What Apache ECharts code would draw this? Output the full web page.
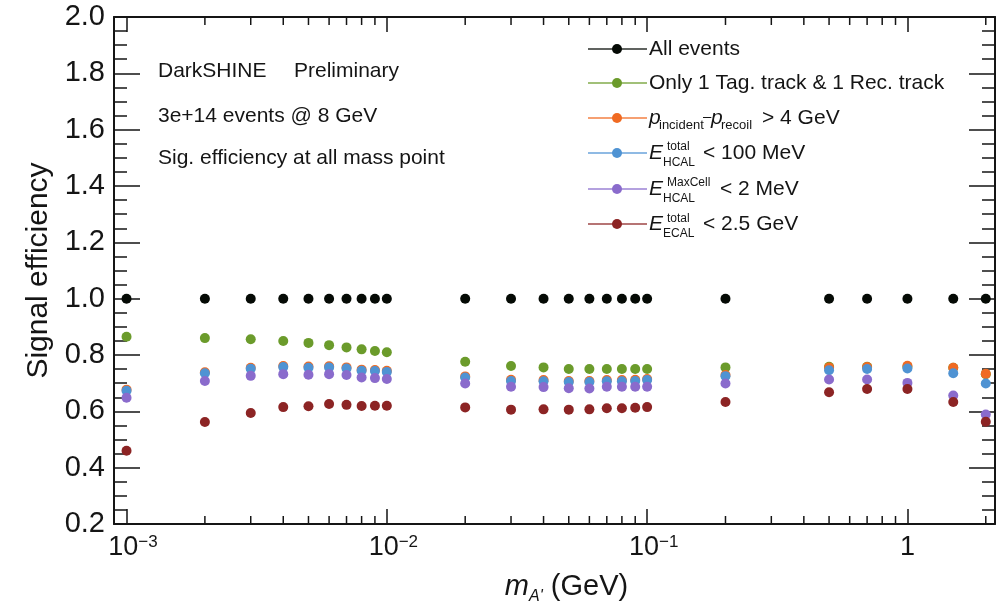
<!DOCTYPE html>
<html>
<head>
<meta charset="utf-8">
<script src="https://cdn.jsdelivr.net/npm/echarts@6/dist/echarts.min.js"></script>
<style>
html,body{margin:0;padding:0;background:#fff;}
#chart{width:1005px;height:612px;}
</style>
</head>
<body>
<div id="chart"></div>
<script>
// ---------------- data ----------------
const masses = [0.001, 0.002, 0.003, 0.004, 0.005, 0.006, 0.007, 0.008, 0.009, 0.01,
                0.02, 0.03, 0.04, 0.05, 0.06, 0.07, 0.08, 0.09, 0.1,
                0.2, 0.5, 0.7, 1.0, 1.5, 2.0];
const allEvents = [1, 1, 1, 1, 1, 1, 1, 1, 1, 1,
                   1, 1, 1, 1, 1, 1, 1, 1, 1,
                   1, 1, 1, 1, 1, 1];
const trackSel = [0.865, 0.860, 0.856, 0.850, 0.843, 0.835, 0.827, 0.820, 0.814, 0.810,
                  0.776, 0.761, 0.756, 0.750, 0.750, 0.750, 0.750, 0.750, 0.750,
                  0.756, 0.758, 0.758, 0.758, 0.755, 0.732];
const momentumCut = [0.677, 0.739, 0.755, 0.761, 0.759, 0.760, 0.756, 0.748, 0.747, 0.744,
                     0.724, 0.712, 0.711, 0.708, 0.708, 0.711, 0.711, 0.712, 0.715,
                     0.729, 0.756, 0.757, 0.762, 0.755, 0.733];
const hcalTotalCut = [0.673, 0.735, 0.751, 0.757, 0.755, 0.756, 0.752, 0.744, 0.743, 0.740,
                      0.720, 0.708, 0.707, 0.704, 0.704, 0.707, 0.707, 0.708, 0.711,
                      0.725, 0.746, 0.750, 0.752, 0.735, 0.699];
const hcalMaxCellCut = [0.648, 0.708, 0.726, 0.732, 0.730, 0.732, 0.729, 0.720, 0.718, 0.715,
                        0.699, 0.687, 0.686, 0.682, 0.681, 0.687, 0.687, 0.687, 0.687,
                        0.699, 0.713, 0.713, 0.701, 0.656, 0.589];
const ecalTotalCut = [0.460, 0.562, 0.594, 0.615, 0.618, 0.626, 0.623, 0.619, 0.620, 0.620,
                      0.614, 0.606, 0.607, 0.606, 0.607, 0.611, 0.611, 0.613, 0.615,
                      0.633, 0.668, 0.679, 0.679, 0.633, 0.563];
const seriesNames = ['All events', 'Only 1 Tag. track & 1 Rec. track',
                     'p_incident - p_recoil > 4 GeV', 'E_HCAL^total < 100 MeV',
                     'E_HCAL^MaxCell < 2 MeV', 'E_ECAL^total < 2.5 GeV'];
const seriesColors = ['#050a05', '#6b9b2b', '#f06a22', '#4f93d3', '#8a6bcc', '#8c2424'];
const xMinorTicks = [0.002, 0.003, 0.004, 0.005, 0.006, 0.007, 0.008, 0.009,
                     0.02, 0.03, 0.04, 0.05, 0.06, 0.07, 0.08, 0.09,
                     0.2, 0.3, 0.4, 0.5, 0.6, 0.7, 0.8, 0.9, 2];
const X_MIN = 0.000895, X_MAX = 2.17;
const Y_MIN = 0.2, Y_MAX = 2.0, Y_STEP = 0.2;
const annotations = ['DarkSHINE', 'Preliminary', '3e+14 events @ 8 GeV', 'Sig. efficiency at all mass point'];

// ---------------- chart ----------------
const FONT = "'Liberation Sans', Arial, Helvetica, sans-serif";
const INK = '#151515';
const seriesValues = [allEvents, trackSel, momentumCut, hcalTotalCut, hcalMaxCellCut, ecalTotalCut];

const chart = echarts.init(document.getElementById('chart'), null, {renderer: 'canvas'});

function xLabel(v) {
  const e = Math.round(Math.log10(v));
  if (e === 0) return '{one|1}';
  return '{b|10}{sup|' + (e < 0 ? '\u2212' : '') + Math.abs(e) + '}';
}

const axisLineStyle = {color: INK, width: 2};

// legend built as graphic elements
function t(x, y, text, size, italic) {
  return {type: 'text', x: x, y: y, silent: true,
    style: {text: text, fontSize: size, fontFamily: FONT, fontStyle: italic ? 'italic' : 'normal',
      fill: INK, textFill: INK, align: 'left', textAlign: 'left', verticalAlign: 'middle', textVerticalAlign: 'middle'}};
}
const rowY = [49, 83, 118, 153, 189, 224];
const legendEls = [];
rowY.forEach(function (y, i) {
  legendEls.push({type: 'line', silent: true, shape: {x1: 588, y1: y, x2: 647, y2: y},
    style: {stroke: seriesColors[i], lineWidth: 1.5, opacity: 0.85}});
  legendEls.push({type: 'circle', silent: true, shape: {cx: 617, cy: y, r: 5},
    style: {fill: seriesColors[i]}});
});
const LS = 21, SS = 12;
legendEls.push(t(649, rowY[0], 'All events', LS));
legendEls.push(t(649, rowY[1], 'Only 1 Tag. track & 1 Rec. track', LS));
// row 3
legendEls.push(t(649, rowY[2], 'p', LS, true));
legendEls.push(t(659, rowY[2] + 7, 'incident', SS + 1));
legendEls.push(t(703, rowY[2] - 1, '\u2013', 15));
legendEls.push(t(711, rowY[2], 'p', LS, true));
legendEls.push(t(721, rowY[2] + 7, 'recoil', SS + 1));
legendEls.push(t(762, rowY[2], '> 4 GeV', LS));
// row 4
legendEls.push(t(649, rowY[3], 'E', LS, true));
legendEls.push(t(667, rowY[3] - 6, 'total', SS));
legendEls.push(t(663, rowY[3] + 10, 'HCAL', SS));
legendEls.push(t(703, rowY[3], '< 100 MeV', LS));
// row 5
legendEls.push(t(649, rowY[4], 'E', LS, true));
legendEls.push(t(667, rowY[4] - 6, 'MaxCell', SS));
legendEls.push(t(663, rowY[4] + 10, 'HCAL', SS));
legendEls.push(t(720, rowY[4], '< 2 MeV', LS));
// row 6
legendEls.push(t(649, rowY[5], 'E', LS, true));
legendEls.push(t(667, rowY[5] - 5, 'total', SS));
legendEls.push(t(663, rowY[5] + 10, 'ECAL', SS));
legendEls.push(t(703, rowY[5], '< 2.5 GeV', LS));
// annotations
legendEls.push(t(158, 71, annotations[0], LS));
legendEls.push(t(294, 71, annotations[1], LS));
legendEls.push(t(158, 116, annotations[2], LS));
legendEls.push(t(158, 158, annotations[3], LS));

const scatterSeries = seriesNames.map(function (name, i) {
  return {
    name: name, type: 'scatter', symbol: 'circle', symbolSize: 10,
    itemStyle: {color: seriesColors[i], opacity: 1},
    emphasis: {disabled: true},
    z: 3 + i,
    data: masses.map(function (m, j) { return [m, seriesValues[i][j]]; })
  };
});

const minorTickSeries = {
  type: 'custom', silent: true, clip: false, z: 2,
  data: xMinorTicks.map(function (v) { return [v, Y_MIN]; }),
  renderItem: function (params, api) {
    const pb = api.coord([api.value(0), Y_MIN]);
    const pt = api.coord([api.value(0), Y_MAX]);
    const st = {stroke: INK, lineWidth: 1.5};
    return {type: 'group', children: [
      {type: 'line', shape: {x1: pb[0], y1: pb[1], x2: pb[0], y2: pb[1] - 8}, style: st},
      {type: 'line', shape: {x1: pt[0], y1: pt[1], x2: pt[0], y2: pt[1] + 8}, style: st}
    ]};
  }
};

const option = {
  animation: false,
  backgroundColor: '#fff',
  textStyle: {fontFamily: FONT, color: INK},
  grid: {left: 114, right: 10, top: 17, bottom: 88, containLabel: false},
  xAxis: [{
    type: 'log', logBase: 10, min: X_MIN, max: X_MAX, position: 'bottom',
    axisLine: {show: true, lineStyle: axisLineStyle},
    axisTick: {show: true, inside: true, length: 15, lineStyle: {color: INK, width: 1.5}},
    splitLine: {show: false},
    axisLabel: {
      show: true, margin: 10, showMinLabel: false, showMaxLabel: false,
      formatter: xLabel, color: INK,
      rich: {
        b: {fontSize: 27, lineHeight: 27, fontFamily: FONT, color: INK, padding: [0, 0, 0, 13]},
        sup: {fontSize: 17, lineHeight: 17, fontFamily: FONT, color: INK, verticalAlign: 'top'},
        one: {fontSize: 27, lineHeight: 27, fontFamily: FONT, color: INK}
      }
    },
    name: '{i|m}{s|A\'}{n| (GeV)}',
    nameLocation: 'middle', nameGap: 48,
    nameTextStyle: {
      padding: [0, 0, 0, 24],
      rich: {
        i: {fontSize: 29, lineHeight: 29, fontStyle: 'italic', fontFamily: FONT, color: INK, verticalAlign: 'top'},
        s: {fontSize: 16, lineHeight: 49, fontStyle: 'italic', fontFamily: FONT, color: INK},
        n: {fontSize: 29, lineHeight: 29, fontFamily: FONT, color: INK, verticalAlign: 'top'}
      }
    }
  }, {
    type: 'log', logBase: 10, min: X_MIN, max: X_MAX, position: 'top',
    axisLine: {show: true, lineStyle: axisLineStyle},
    axisTick: {show: true, inside: true, length: 15, lineStyle: {color: INK, width: 1.5}},
    splitLine: {show: false},
    axisLabel: {show: false}
  }],
  yAxis: [{
    type: 'value', min: Y_MIN, max: Y_MAX, interval: Y_STEP, position: 'left',
    axisLine: {show: true, lineStyle: axisLineStyle},
    axisTick: {show: true, inside: true, length: 26, lineStyle: {color: INK, width: 1.5}},
    minorTick: {show: true, splitNumber: 4, length: 13, lineStyle: {color: INK, width: 1.5}},
    splitLine: {show: false},
    axisLabel: {
      margin: 9, fontSize: 29, fontFamily: FONT, color: INK,
      formatter: function (v) { return v.toFixed(1); }
    },
    name: 'Signal efficiency', nameLocation: 'middle', nameGap: 54, nameRotate: 90,
    nameTextStyle: {fontSize: 30, fontFamily: FONT, color: INK}
  }, {
    type: 'value', min: Y_MIN, max: Y_MAX, interval: Y_STEP, position: 'right',
    axisLine: {show: true, lineStyle: axisLineStyle},
    axisTick: {show: true, inside: true, length: 26, lineStyle: {color: INK, width: 1.5}},
    minorTick: {show: true, splitNumber: 4, length: 13, lineStyle: {color: INK, width: 1.5}},
    splitLine: {show: false},
    axisLabel: {show: false}
  }],
  graphic: {elements: legendEls},
  series: [minorTickSeries].concat(scatterSeries)
};
chart.setOption(option);
</script>
</body>
</html>
